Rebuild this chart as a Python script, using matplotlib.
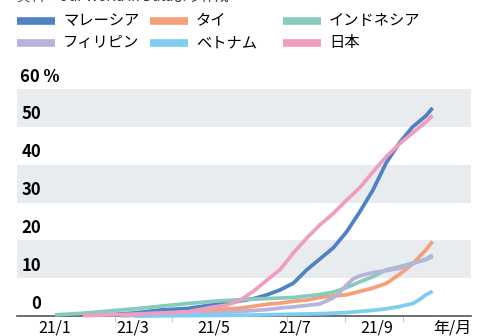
import numpy as np
import matplotlib
matplotlib.use('Agg')
import matplotlib.pyplot as plt
from matplotlib.lines import Line2D

plt.rcParams['font.family'] = ['Noto Sans CJK JP', 'DejaVu Sans']

# 2021/1/1 からの日数と接種完了率(%)
my_days = [40, 60, 80, 100, 120, 130, 140, 150, 160, 170, 180, 190, 200, 210, 220, 230, 240, 250, 260, 270, 280, 285]
my_vals = [0.3, 0.8, 1.6, 2.0, 3.0, 3.4, 4.0, 4.6, 5.6, 6.9, 8.7, 12.2, 15.1, 18.0, 22.2, 27.5, 33.3, 40.5, 45.8, 50.0, 52.9, 55.0]

th_days = [50, 80, 100, 120, 140, 160, 170, 180, 190, 200, 210, 220, 230, 240, 250, 260, 270, 280, 285]
th_vals = [0.1, 0.5, 1.0, 1.6, 2.1, 3.1, 3.4, 3.9, 4.2, 4.9, 5.3, 5.6, 6.5, 7.4, 8.6, 11.0, 13.8, 17.5, 19.7]

id_days = [0, 20, 40, 60, 80, 100, 120, 130, 140, 160, 180, 190, 200, 210, 220, 230, 240, 250, 260, 270, 280, 285]
id_vals = [0.3, 0.7, 1.3, 1.9, 2.6, 3.3, 3.9, 4.1, 4.3, 4.6, 4.9, 5.3, 5.7, 6.3, 7.5, 9.0, 10.4, 12.2, 13.0, 14.0, 14.9, 15.7]

ph_days = [50, 100, 120, 140, 160, 170, 180, 190, 200, 210, 215, 220, 225, 230, 240, 250, 260, 270, 280, 285]
ph_vals = [0.1, 0.5, 0.8, 1.2, 1.7, 2.1, 2.4, 2.8, 3.2, 4.8, 6.3, 8.2, 9.8, 10.6, 11.5, 12.0, 12.6, 13.8, 15.1, 16.1]

vn_days = [60, 140, 170, 200, 220, 240, 250, 260, 270, 275, 280, 285]
vn_vals = [0.0, 0.2, 0.4, 0.6, 0.9, 1.5, 1.9, 2.5, 3.3, 4.3, 5.6, 6.5]

jp_days = [21, 60, 80, 100, 120, 130, 140, 150, 160, 170, 180, 190, 200, 210, 220, 230, 240, 250, 260, 270, 280, 285]
jp_vals = [0.1, 0.5, 0.8, 1.1, 2.4, 2.9, 4.2, 6.6, 9.5, 12.3, 16.7, 20.6, 24.1, 27.1, 30.6, 33.9, 38.1, 42.1, 45.5, 48.4, 51.3, 53.0]

names = ['マレーシア', 'タイ', 'インドネシア', 'フィリピン', 'ベトナム', '日本']
colors = ['#4f81c4', '#f4a07a', '#86cbbd', '#b9b3d9', '#7fcdf0', '#f09ec0']
series = [(my_days, my_vals), (th_days, th_vals), (id_days, id_vals),
          (ph_days, ph_vals), (vn_days, vn_vals), (jp_days, jp_vals)]

xlabels = ['21/1', '21/3', '21/5', '21/7', '21/9', '年/月']
xlabel_days = [0, 59, 120, 181, 243, 300]
tick_days = [0, 45, 88, 175, 219, 263]
yvals = [0, 10, 20, 30, 40, 50, 60]

W, H = 489, 336
fig = plt.figure(figsize=(W/100, H/100), dpi=100)
ax = fig.add_axes([17/W, 20/H, (471-17)/W, (316-89)/H])
ax.set_xlim(-28.7, 314)
ax.set_ylim(0, 60)

for lo in [10, 30, 50]:
  ax.axhspan(lo, lo+10, color='#e9ecef', lw=0, zorder=0)

for (d, v), c in zip(series, colors):
  ax.plot(d, v, color=c, lw=2.7, solid_capstyle='butt', solid_joinstyle='round',
          clip_on=False, zorder=3)

for s in ['top', 'right', 'left']:
  ax.spines[s].set_visible(False)
ax.spines['bottom'].set_color('#555555')
ax.spines['bottom'].set_linewidth(1.2)
ax.spines['bottom'].set_zorder(2)

ax.set_yticks([])
ax.set_xticks(tick_days, minor=True)
ax.set_xticks(xlabel_days)
ax.set_xticklabels(xlabels, fontsize=11.5)
ax.tick_params(axis='x', which='major', length=0, pad=2.5)
ax.tick_params(axis='x', which='minor', length=4, color='#c8c8c8', width=0.8)

# y labels sit inside the plot, just above each value
for v in yvals:
  if v == 60:
    ax.annotate('60 %', (0, v), xycoords=('axes fraction', 'data'), xytext=(2.2, 2.5),
                textcoords='offset points', ha='left', va='bottom', fontsize=12,
                fontweight='bold', annotation_clip=False)
  else:
    ax.annotate(str(v), (0, v), xycoords=('axes fraction', 'data'), xytext=(17.5, 2.5),
                textcoords='offset points', ha='right', va='bottom', fontsize=12,
                fontweight='bold', annotation_clip=False)

# legend, 3 columns x 2 rows
for i, (n, c) in enumerate(zip(names, colors)):
  col, row = i % 3, i // 3
  x0 = 17 + col*133
  y0 = 21 + row*22
  fig.add_artist(Line2D([x0/W, (x0+38)/W], [1-y0/H, 1-y0/H], color=c, lw=5.5,
                        solid_capstyle='butt'))
  fig.text((x0+46)/W, 1-y0/H, n, fontsize=11, va='center', ha='left')

fig.text(17/W, 1+3/H, '資料：Our World in Dataより作成', fontsize=10, va='center', ha='left',
         color='#333333')

plt.savefig('out.png', dpi=100)
